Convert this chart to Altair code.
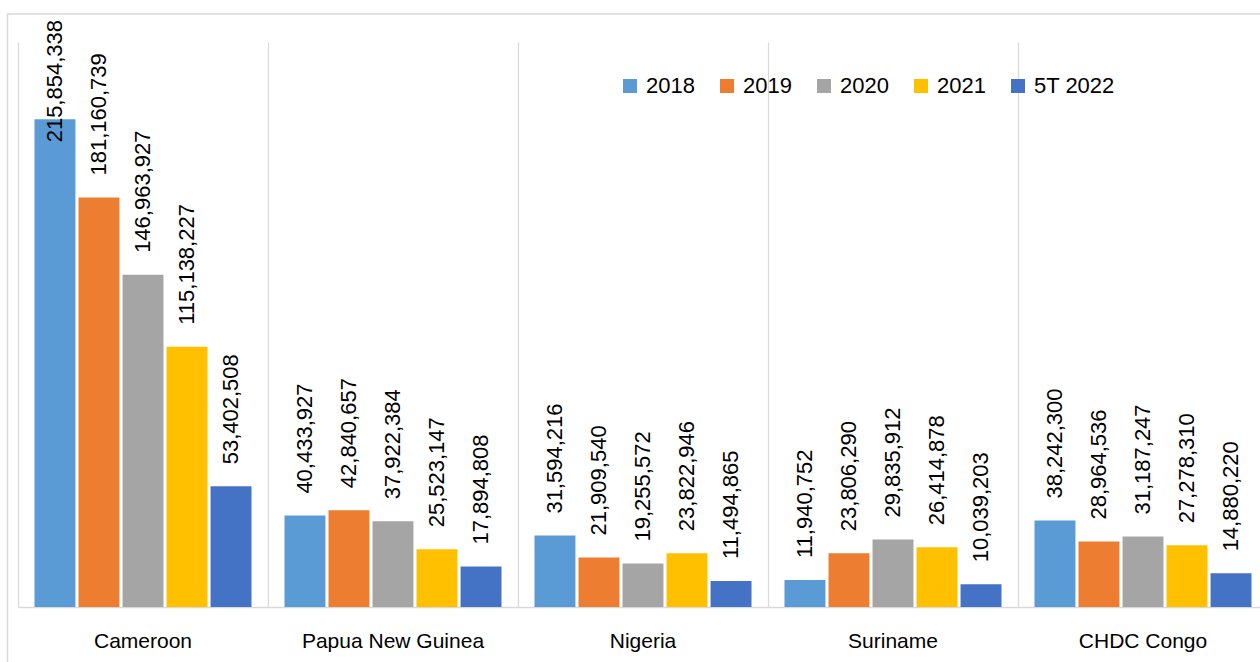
import altair as alt
import pandas as pd

# Categories and series
countries = ["Cameroon", "Papua New Guinea", "Nigeria", "Suriname", "CHDC Congo"]
years = ["2018", "2019", "2020", "2021", "5T 2022"]
colors = ["#5B9BD5", "#ED7D31", "#A5A5A5", "#FFC000", "#4472C4"]

v2018 = [215854338, 40433927, 31594216, 11940752, 38242300]
v2019 = [181160739, 42840657, 21909540, 23806290, 28964536]
v2020 = [146963927, 37922384, 19255572, 29835912, 31187247]
v2021 = [115138227, 25523147, 23822946, 26414878, 27278310]
v2022 = [53402508, 17894808, 11494865, 10039203, 14880220]

y_max = 250_000_000

series = dict(zip(years, [v2018, v2019, v2020, v2021, v2022]))
rows = []
for yr, vals in series.items():
    for c, v in zip(countries, vals):
        rows.append({"country": c, "year": yr, "value": v})
df = pd.DataFrame(rows)

FONT = "Liberation Sans"
PAD_INNER = 0.132

x_enc = alt.X(
    "country:N",
    sort=countries,
    title=None,
    scale=alt.Scale(domain=countries, range=[0, 1250], paddingInner=PAD_INNER, paddingOuter=PAD_INNER / 2),
    axis=alt.Axis(
        labelAngle=0,
        ticks=False,
        grid=True,
        gridColor="#d9d9d9",
        gridWidth=1.2,
        # grid lines sit on the category boundaries, half a gap before each band
        bandPosition=-(PAD_INNER / 2) / (1 - PAD_INNER),
        domainColor="#d9d9d9",
        domainWidth=1.5,
        labelFont=FONT,
        labelFontSize=21,
        labelColor="#000000",
        labelPadding=23,
        labelLimit=0,
    ),
)
xoff_enc = alt.XOffset(
    "year:N", sort=years, scale=alt.Scale(domain=years, paddingInner=0.07, paddingOuter=0)
)
y_enc = alt.Y(
    "value:Q",
    axis=None,
    scale=alt.Scale(domain=[0, y_max], nice=False, zero=True),
)

base = alt.Chart(df)

bars = base.mark_bar().encode(
    x=x_enc,
    xOffset=xoff_enc,
    y=y_enc,
    color=alt.Color(
        "year:N",
        sort=years,
        scale=alt.Scale(domain=years, range=colors),
        legend=alt.Legend(
            title=None,
            orient="none",
            legendX=601,
            legendY=33,
            direction="horizontal",
            symbolType="square",
            symbolSize=196,
            symbolStrokeWidth=0,
            symbolOpacity=1,
            labelFont=FONT,
            labelFontSize=22,
            labelColor="#000000",
            labelOffset=5,
            columnPadding=21,
            padding=0,
        ),
    ),
)

label_style = dict(angle=270, baseline="middle", font=FONT, fontSize=22, color="#000000", dx=22)

# Value labels above each bar, reading upward
labels = base.transform_filter(alt.datum.value < 200_000_000).mark_text(
    align="left", **label_style
).encode(
    x=x_enc,
    xOffset=xoff_enc,
    y=y_enc,
    text=alt.Text("value:Q", format=",d"),
)

# A label too tall to fit above its bar hangs down from the top of the plot
labels_top = base.transform_filter(alt.datum.value >= 200_000_000).mark_text(
    align="right", **label_style
).encode(
    x=x_enc,
    xOffset=xoff_enc,
    y=alt.datum(y_max),
    text=alt.Text("value:Q", format=",d"),
)

# Outer chart frame
frame = alt.Chart(alt.Data(values=[{}])).mark_rect(
    fillOpacity=0, stroke="#d9d9d9", strokeWidth=1.5
).encode(
    x=alt.value(-10.5), x2=alt.value(1300), y=alt.value(-28), y2=alt.value(700)
)

chart = (
    alt.layer(frame, bars, labels, labels_top)
    .properties(
        width=1242,
        height=565,
        autosize=alt.AutoSizeParams(type="none"),
        padding={"left": 18, "top": 42, "right": 0, "bottom": 55},
        background="white",
    )
    .configure_view(stroke=None)
)

chart.save("out.html", embed_options={"renderer": "svg", "actions": False})
